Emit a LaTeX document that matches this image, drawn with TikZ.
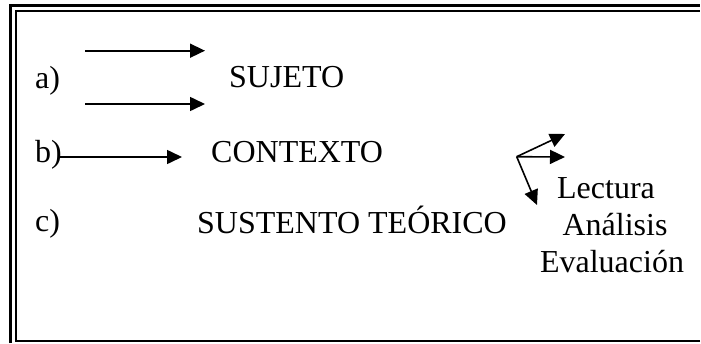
\documentclass[tikz,border=0pt]{standalone}
\usepackage{fontspec}
\setmainfont{Liberation Serif}
\usetikzlibrary{arrows.meta}
\begin{document}
\begin{tikzpicture}[x=1pt,y=-1pt,
  lbl/.style={anchor=base west,inner sep=0pt,font=\fontsize{32}{38}\selectfont},
  rlbl/.style={anchor=base,inner sep=0pt,font=\fontsize{32}{38}\selectfont},
  arr/.style={line width=1.6pt,-{Triangle[length=15pt,width=14pt]}},
  frameouter/.style={line width=2.8pt},
  frameinner/.style={line width=2.2pt}]
\useasboundingbox (0,0) rectangle (701,343);
\fill[white] (-2,-2) rectangle (703,345);
% frame
\draw[frameouter] (10.5,343) -- (10.5,5.3) -- (700,5.3);
\draw[frameinner] (700,340.7) -- (16,340.7) -- (16,11.2) -- (700,11.2);
% left labels
\node[lbl] (a) at (35,88) {a)};
\node[lbl] (b) at (35,162) {b)};
\node[lbl] (c) at (35,231) {c)};
% main labels
\node[lbl] (suj) at (229,87) {SUJETO};
\node[lbl] (ctx) at (211,162) {CONTEXTO};
\node[lbl] (sus) at (197,233) {SUSTENTO TEÓRICO};
% right list
\node[rlbl] (lec) at (606,198) {Lectura};
\node[rlbl] (ana) at (615,235) {Análisis};
\node[rlbl] (eva) at (612,272) {Evaluación};
% arrows for a)
\coordinate (a1s) at (85,50.7);
\coordinate (a1e) at (205,50.7);
\coordinate (a2s) at (85,104);
\coordinate (a2e) at (205,104);
\draw[arr] (a1s) -- (a1e);
\draw[arr] (a2s) -- (a2e);
% arrow for b)
\coordinate (bs) at (60,157);
\coordinate (be) at (182,157);
\draw[arr] (bs) -- (be);
% fan of arrows
\coordinate (o) at (516.7,156.7);
\coordinate (t1) at (565,134);
\coordinate (t2) at (565,157);
\coordinate (t3) at (537,205);
\draw[arr] (o) -- (t1);
\draw[arr] (o) -- (t2);
\draw[arr] (o) -- (t3);
\end{tikzpicture}
\end{document}
